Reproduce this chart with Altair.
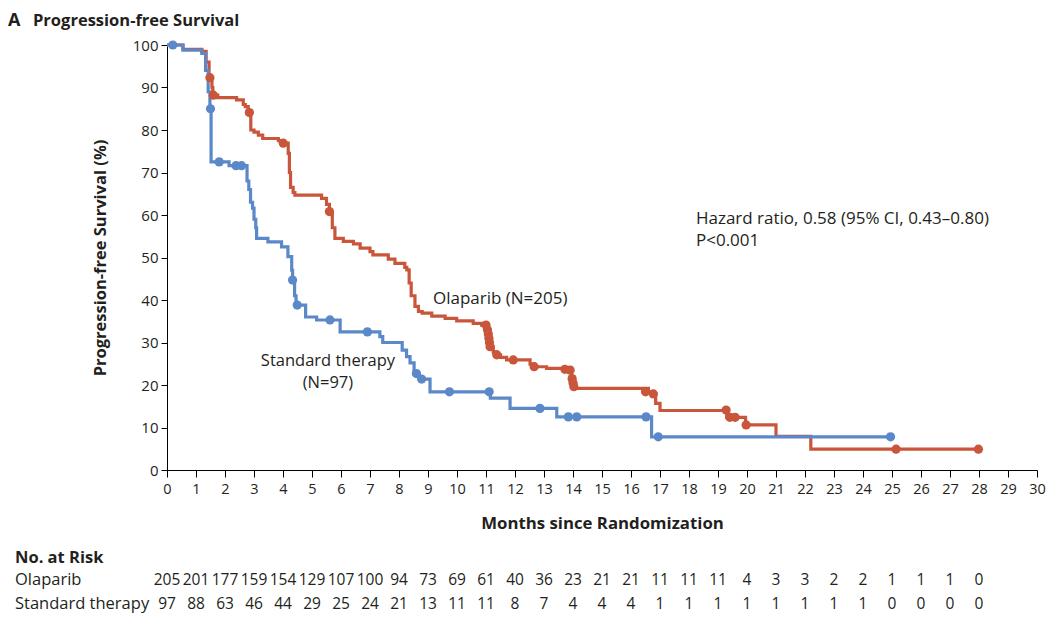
import altair as alt
import pandas as pd

RED = "#c9553a"
BLUE = "#5b88c8"
INK = "#231f20"
FONT = "Open Sans"

# Olaparib KM curve (step-after): time (months), survival (%)
olap_t = [0, 0.55, 1.2, 1.35, 1.45, 1.55, 1.58, 1.75, 2.4, 2.63, 2.7, 2.8, 2.89, 3.0, 3.15, 3.3,
          3.84, 3.95, 4.18, 4.22, 4.26, 4.35, 4.41, 5.33, 5.5, 5.6, 5.7, 5.79, 6.08, 6.43, 6.66,
          7.0, 7.1, 7.63, 7.86, 8.2, 8.27, 8.35, 8.42, 8.55, 8.67, 8.8, 9.13, 9.59, 9.99, 10.56,
          10.85, 11.05, 11.08, 11.1, 11.12, 11.14, 11.25, 11.37, 11.5, 11.71, 12.52, 12.6, 13.09,
          13.8, 13.95, 13.98, 14.01, 14.1, 16.6, 16.75, 16.85, 17.0, 19.3, 19.95, 21.0, 22.2, 28.0]
olap_s = [100, 99, 98.5, 96, 92.3, 90, 88.2, 87.6, 87.1, 86, 85.5, 84.1, 80, 79.5, 78.8, 78.0,
          77.5, 76.9, 74.5, 70, 66.5, 65.3, 64.7, 63.9, 62.5, 60.8, 57, 54.5, 53.8, 53.2, 52.2,
          51.4, 50.6, 49.6, 48.6, 47.7, 47.1, 44, 41, 38.5, 37.3, 36.9, 36.2, 35.7, 35.1, 34.5,
          34.1, 33, 32, 31, 30, 29, 27.8, 27.1, 26.5, 25.9, 24.9, 24.3, 23.9,
          23.5, 22, 21, 20, 19.2, 18.4, 17.9, 15.7, 14.0, 12.4, 10.6, 7.9, 4.9, 4.9]

# Standard therapy KM curve
std_t = [0, 0.55, 1.2, 1.33, 1.42, 1.48, 1.52, 2.14, 2.76, 2.82, 2.88, 2.95, 3.0, 3.06, 3.09,
         3.48, 3.95, 4.17, 4.3, 4.33, 4.4, 4.45, 4.78, 5.16, 5.97, 7.34, 7.44, 8.11, 8.26, 8.38,
         8.52, 8.7, 9.07, 11.15, 11.83, 13.44, 16.71, 24.95]
std_s = [100, 98.8, 98, 94, 89, 85, 72.5, 71.6, 68, 66, 63, 61.6, 59, 57, 54.5,
         53.7, 52.5, 50.2, 47, 44.7, 41, 38.8, 36, 35.3, 32.5, 31.4, 30, 28.2, 26.7, 25.2,
         22.7, 21.4, 18.4, 16.9, 14.5, 12.5, 7.8, 7.8]

# Censoring marks
olap_ct = [1.48, 1.6, 2.84, 4.01, 5.6, 11.0, 11.05, 11.08, 11.1, 11.12, 11.14, 11.37, 11.94,
           12.66, 13.72, 13.9, 13.97, 14.0, 14.03, 16.5, 16.77, 19.28, 19.41, 19.59, 19.97,
           25.14, 27.98]
olap_cs = [92.3, 88.2, 84.1, 76.9, 60.8, 34.1, 33, 32, 31, 30, 29, 27.1, 25.9,
           24.3, 23.7, 23.5, 21.5, 20.5, 19.6, 18.4, 17.9, 14.1, 12.4, 12.4, 10.6,
           4.9, 4.9]
std_ct = [0.2, 1.5, 1.8, 2.38, 2.57, 4.33, 4.49, 5.62, 6.91, 8.6, 8.78, 9.74, 11.11, 12.86,
          13.84, 14.13, 16.52, 16.94, 24.95]
std_cs = [100, 85, 72.5, 71.6, 71.6, 44.7, 38.8, 35.3, 32.5, 22.7, 21.4, 18.4, 18.4, 14.5,
          12.5, 12.5, 12.5, 7.8, 7.8]

# Number at risk
risk_months = list(range(0, 29))
olap_risk = [205, 201, 177, 159, 154, 129, 107, 100, 94, 73, 69, 61, 40, 36, 23, 21, 21, 11, 11,
             11, 4, 3, 3, 2, 2, 1, 1, 1, 0]
std_risk = [97, 88, 63, 46, 44, 29, 25, 24, 21, 13, 11, 11, 8, 7, 4, 4, 4, 1, 1, 1, 1, 1, 1, 1,
            1, 0, 0, 0, 0]

x_ticks = list(range(0, 31))
y_ticks = list(range(0, 101, 10))

W, H = 870, 425

xs = alt.Scale(domain=[0, 30], nice=False, zero=True)
ys = alt.Scale(domain=[0, 100], nice=False, zero=True)

olap_df = pd.DataFrame({"t": olap_t, "s": olap_s})
std_df = pd.DataFrame({"t": std_t, "s": std_s})
olap_c = pd.DataFrame({"t": olap_ct, "s": olap_cs})
std_c = pd.DataFrame({"t": std_ct, "s": std_cs})

x_axis = alt.Axis(values=x_ticks, title="Months since Randomization", tickSize=7,
                  labelFontSize=14.5, titleFontSize=16.8, titleFontWeight="bold",
                  labelPadding=5, titlePadding=20, grid=False, domainColor="black",
                  tickColor="black", labelColor=INK, titleColor=INK, labelFlush=False,
                  labelOverlap=False, labelSeparation=0, format="d")
y_axis = alt.Axis(values=y_ticks, title="Progression-free Survival (%)", tickSize=6,
                  labelFontSize=15, titleFontSize=16.5, titleFontWeight="bold",
                  labelPadding=3, titlePadding=24, grid=False, domainColor="black",
                  tickColor="black", labelColor=INK, titleColor=INK, labelOverlap=False)


def X(field):
    return alt.X(field, scale=xs, axis=x_axis)


def Y(field):
    return alt.Y(field, scale=ys, axis=y_axis)


red_line = alt.Chart(olap_df).mark_line(interpolate="step-after", color=RED, strokeWidth=3.2).encode(
    x=X("t:Q"), y=Y("s:Q"))
blue_line = alt.Chart(std_df).mark_line(interpolate="step-after", color=BLUE, strokeWidth=3.2).encode(
    x=X("t:Q"), y=Y("s:Q"))
red_pts = alt.Chart(olap_c).mark_circle(color=RED, size=85, opacity=1).encode(
    x=X("t:Q"), y=Y("s:Q"))
blue_pts = alt.Chart(std_c).mark_circle(color=BLUE, size=85, opacity=1).encode(
    x=X("t:Q"), y=Y("s:Q"))

# annotations in data coordinates
ann_df = pd.DataFrame({
    "t": [9.17, 18.24, 18.24],
    "s": [40.2, 59.1, 53.9],
    "label": ["Olaparib (N=205)", "Hazard ratio, 0.58 (95% CI, 0.43\u20130.80)", "P<0.001"],
})
ann = alt.Chart(ann_df).mark_text(align="left", baseline="middle", fontSize=17, color=INK,
                                  font=FONT).encode(
    x=X("t:Q"), y=Y("s:Q"), text="label:N")

std_lab_df = pd.DataFrame({"t": [5.55, 5.55], "s": [25.7, 20.5],
                           "label": ["Standard therapy", "(N=97)"]})
std_lab = alt.Chart(std_lab_df).mark_text(align="center", baseline="middle", fontSize=16.5,
                                          color=INK, font=FONT).encode(
    x=X("t:Q"), y=Y("s:Q"), text="label:N")

# Panel title
title_a = alt.Chart(pd.DataFrame({"label": ["A"]})).mark_text(
    align="left", baseline="alphabetic", fontSize=18, fontWeight="bold", color=INK, font=FONT).encode(
    x=alt.value(-159), y=alt.value(-19), text="label:N")
title_b = alt.Chart(pd.DataFrame({"label": ["Progression-free Survival"]})).mark_text(
    align="left", baseline="alphabetic", fontSize=16.5, fontWeight="bold", color=INK, font=FONT).encode(
    x=alt.value(-134), y=alt.value(-19), text="label:N")

# Risk table
risk_head = alt.Chart(pd.DataFrame({"label": ["No. at Risk"]})).mark_text(
    align="left", baseline="middle", fontSize=16.5, fontWeight="bold", color=INK, font=FONT).encode(
    x=alt.value(-152), y=alt.value(513), text="label:N")
row_labels_o = alt.Chart(pd.DataFrame({"label": ["Olaparib"]})).mark_text(
    align="left", baseline="middle", fontSize=16.5, color=INK, font=FONT).encode(
    x=alt.value(-152), y=alt.value(535), text="label:N")
row_labels_s = alt.Chart(pd.DataFrame({"label": ["Standard therapy"]})).mark_text(
    align="left", baseline="middle", fontSize=16.5, color=INK, font=FONT).encode(
    x=alt.value(-152), y=alt.value(559), text="label:N")

olap_risk_df = pd.DataFrame({"m": risk_months, "n": olap_risk})
std_risk_df = pd.DataFrame({"m": risk_months, "n": std_risk})
risk_o = alt.Chart(olap_risk_df).mark_text(align="center", baseline="middle", fontSize=15.5,
                                           color=INK, font=FONT).encode(
    x=X("m:Q"), y=alt.value(535), text="n:N")
risk_s = alt.Chart(std_risk_df).mark_text(align="center", baseline="middle", fontSize=15.5,
                                          color=INK, font=FONT).encode(
    x=X("m:Q"), y=alt.value(559), text="n:N")

chart = alt.layer(
    red_line, blue_line, red_pts, blue_pts, ann, std_lab, title_a, title_b,
    risk_head, row_labels_o, row_labels_s, risk_o, risk_s,
).properties(
    width=W, height=H,
    autosize=alt.AutoSizeParams(type="none"),
    padding={"left": 159, "top": 37, "right": 15, "bottom": 150},
).configure(font=FONT).configure_view(stroke=None).configure_axis(labelOverlap=False)

chart.save("out.html", embed_options={"renderer": "svg", "actions": False})
